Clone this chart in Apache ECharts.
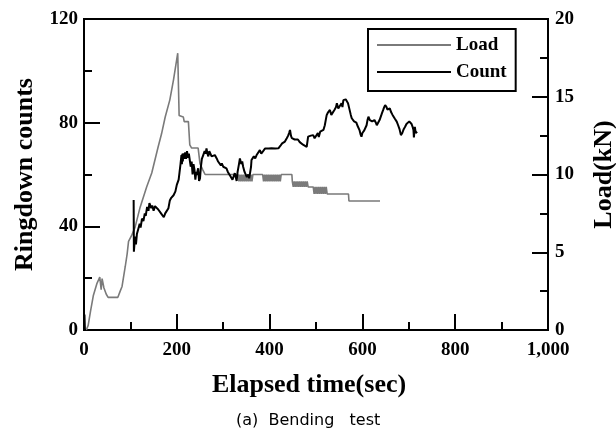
<!DOCTYPE html>
<html>
<head>
<meta charset="utf-8">
<script src="https://cdn.jsdelivr.net/npm/echarts@6/dist/echarts.min.js"></script>
<style>html,body{margin:0;padding:0;background:#fff;}#c{width:616px;height:438px;}</style>
</head>
<body>
<div id="c"></div>
<script>
// Load (kN) vs elapsed time (s)
var loadT = [5, 9, 14, 20, 28, 32, 34, 37, 39, 41, 43, 45, 48, 52, 73, 78, 82, 89, 93, 96, 103, 110, 121, 135, 146, 160, 167, 175, 185, 193, 202, 205, 214, 216, 225, 228, 232, 246, 250, 256, 261,
  332, 334, 336, 338, 340, 342, 344, 346, 348, 350, 352, 354, 356, 358, 360, 362, 364,
  385, 387, 389, 391, 393, 395, 397, 399, 401, 403, 405, 407, 409, 411, 413, 415, 417, 419, 421, 423, 425,
  448, 449, 451, 453, 455, 457, 459, 461, 463, 465, 467, 469, 471, 473, 475, 477, 479, 481, 483,
  494, 496, 498, 500, 502, 504, 506, 508, 510, 512, 514, 516, 518, 520, 522, 524, 570, 571, 638];
var loadV = [0, 0.3, 1.2, 2.2, 3.0, 3.1, 3.4, 2.6, 3.3, 3.4, 2.7, 2.6, 2.3, 2.1, 2.1, 2.5, 2.8, 4.1, 4.9, 5.7, 6.1, 6.6, 7.9, 9.2, 10.1, 11.8, 12.6, 13.7, 14.8, 16.1, 17.8, 13.8, 13.7, 13.4, 13.4, 11.9, 11.7, 11.7, 10.7, 10.3, 10.0,
  10.0, 9.55, 10.0, 9.55, 10.0, 9.55, 10.0, 9.55, 10.0, 9.55, 10.0, 9.55, 10.0, 9.55, 10.0, 9.55, 10.0,
  10.0, 9.55, 10.0, 9.55, 10.0, 9.55, 10.0, 9.55, 10.0, 9.55, 10.0, 9.55, 10.0, 9.55, 10.0, 9.55, 10.0, 9.55, 10.0, 9.55, 10.0,
  10.0, 9.55, 9.2, 9.55, 9.2, 9.55, 9.2, 9.55, 9.2, 9.55, 9.2, 9.55, 9.2, 9.55, 9.2, 9.55, 9.2, 9.55, 9.2,
  9.2, 8.75, 9.2, 8.75, 9.2, 8.75, 9.2, 8.75, 9.2, 8.75, 9.2, 8.75, 9.2, 8.75, 9.2, 8.75, 8.75, 8.3, 8.3];

// Ringdown counts vs elapsed time (s)
var countStartT = [0, 1, 2];
var countStartV = [0, 6, 0];
var countT = [107, 107.5, 110, 112, 114, 117, 120, 122, 125, 128, 131, 133, 136, 139, 141, 143, 145, 147, 150, 153, 157, 160, 163, 166, 169, 172, 175, 179, 182, 185, 188, 190, 193, 197, 200, 204, 206, 208, 210, 211, 212, 213, 214, 216, 218, 220, 222, 224, 226, 228, 230, 232, 234, 236, 238, 240, 242, 243, 246, 248, 250, 252, 254, 257, 260, 262, 264, 266, 268, 270, 272, 275, 279, 282, 286, 289, 292, 295, 297, 300, 304, 307, 310, 312, 315, 318, 320, 322, 325, 327, 329, 331, 334, 336, 339, 341, 343, 346, 349, 351, 354, 356, 358, 360, 361, 364, 366, 369, 372, 376, 379, 382, 386, 390, 394, 398, 401, 404, 408, 412, 416, 419, 423, 427, 430, 433, 437, 440, 442, 444, 446, 448, 451, 454, 458, 461, 465, 469, 472, 476, 480, 483, 486, 489, 494, 497, 501, 504, 506, 509, 512, 516, 519, 521, 523, 526, 530, 533, 537, 540, 543, 545, 548, 552, 555, 557, 559, 562, 564, 566, 569, 571, 573, 575, 577, 580, 582, 584, 587, 589, 591, 594, 596, 598, 600, 602, 604, 606, 609, 611, 613, 616, 619, 621, 623, 626, 629, 631, 634, 637, 640, 642, 645, 647, 649, 652, 654, 656, 659, 662, 665, 667, 670, 672, 674, 677, 680, 683, 686, 689, 692, 695, 698, 701, 703, 706, 708, 710, 711, 713, 715, 718];
var countV = [50.2, 30.2, 36, 33, 37, 39, 41, 39.5, 43, 42, 45, 44, 47.5, 46, 49, 48.9, 47, 48, 46, 47.8, 47.6, 46.5, 46.8, 45, 44.5, 43.5, 45, 45.6, 47, 50, 51, 51.4, 52, 53.5, 56, 58, 61, 64, 67.5, 64, 68, 65, 68.2, 66, 68.5, 66, 69, 66.5, 68, 68.2, 63, 65, 60, 64, 62, 58, 61, 59.8, 62.4, 57.5, 58.5, 63, 66, 67.5, 69, 68, 70.1, 68, 67, 69, 68.2, 67, 66.9, 67.5, 66.2, 65, 65.5, 63.5, 64.3, 63, 63.5, 62.4, 61, 61.5, 59.5, 59.1, 58, 57.5, 60.5, 59, 57.5, 61, 64, 66.2, 64, 65, 63, 61, 60.5, 59, 60, 58.5, 59.1, 63, 65.6, 65, 67, 66.2, 67.5, 67.5, 69.4, 68, 68.2, 70, 69.4, 70, 69.5, 70.1, 70.5, 70, 70.5, 70.1, 71, 72, 71.5, 72.7, 74, 75, 76, 77.2, 75, 74, 74, 73.5, 73.3, 73.5, 72.5, 72, 71.5, 71, 70.7, 74.6, 74, 75, 75.2, 74, 74.6, 76, 74.5, 76.5, 76, 77.2, 79, 81, 82.9, 84, 84.9, 83, 83.6, 85, 86, 87.5, 85.5, 86.2, 87.5, 86, 88.7, 88, 89, 88.7, 87.5, 86, 85.5, 83, 81.7, 82, 80.5, 81, 80, 79, 78.4, 77, 75.5, 74.6, 76, 75.5, 77, 76.5, 79, 81, 82.3, 81, 81.5, 80.5, 80.4, 81, 80, 79, 79.7, 81, 82.5, 83.6, 85, 86, 86.8, 86, 85, 84.9, 85.5, 84, 83, 82.3, 81.5, 81, 80.4, 79, 77.5, 75.2, 76, 77.5, 78.4, 79.5, 80, 80.5, 81, 79.5, 78.5, 77.2, 74.3, 78.4, 76, 76.5];

var xTicks = [0, 200, 400, 600, 800, 1000];

function pairs(t, v) { var o = []; for (var i = 0; i < t.length; i++) o.push([t[i], v[i]]); return o; }
var countData = pairs(countStartT, countStartV).concat([[104, null]]).concat(pairs(countT, countV));

var serif = "'Liberation Serif', 'Times New Roman', serif";
var tickFont = { fontFamily: serif, fontWeight: 'bold', fontSize: 19, color: '#000' };
var nameFont = { fontFamily: serif, fontWeight: 'bold', fontSize: 26, color: '#000' };

var chart = echarts.init(document.getElementById('c'), null, { renderer: 'canvas' });
chart.setOption({
  animation: false,
  backgroundColor: '#fff',
  grid: { left: 84, right: 68, top: 19, bottom: 108, show: true, borderColor: '#000', borderWidth: 2, backgroundColor: 'transparent', containLabel: false, outerBoundsMode: 'none' },
  legend: {
    orient: 'vertical', left: 368, top: 29,
    padding: [6, 9, 9, 9], itemGap: 7, itemWidth: 74, itemHeight: 2, icon: 'rect',
    borderColor: '#000', borderWidth: 2,
    textStyle: { fontFamily: serif, fontWeight: 'bold', fontSize: 19, color: '#000', lineHeight: 20 },
    data: ['Load', 'Count']
  },
  xAxis: {
    type: 'value', min: 0, max: 1000, interval: 200,
    name: 'Elapsed time(sec)', nameLocation: 'middle', nameGap: 42,
    nameTextStyle: Object.assign({ padding: [0, 14, 0, 0] }, nameFont),
    axisLine: { show: true, lineStyle: { color: '#000', width: 2 } },
    axisTick: { show: true, inside: true, length: 16, lineStyle: { color: '#000', width: 2 } },
    minorTick: { show: true, splitNumber: 2, length: 8, lineStyle: { color: '#000', width: 2 } },
    splitLine: { show: false },
    axisLabel: Object.assign({ margin: 11, formatter: function (v) { return v === 1000 ? '1,000' : String(v); } }, tickFont)
  },
  yAxis: [{
    type: 'value', min: 0, max: 120, interval: 40, position: 'left',
    name: 'Ringdown counts', nameLocation: 'middle', nameGap: 45, nameRotate: 90, nameTextStyle: nameFont,
    axisLine: { show: true, lineStyle: { color: '#000', width: 2 } },
    axisTick: { show: true, inside: true, length: 16, lineStyle: { color: '#000', width: 2 } },
    minorTick: { show: true, splitNumber: 2, length: 8, lineStyle: { color: '#000', width: 2 } },
    splitLine: { show: false },
    axisLabel: Object.assign({ margin: 6 }, tickFont)
  }, {
    type: 'value', min: 0, max: 20, interval: 5, position: 'right',
    name: 'Load(kN)', nameLocation: 'middle', nameGap: 43, nameRotate: 90, nameTextStyle: nameFont,
    axisLine: { show: true, lineStyle: { color: '#000', width: 2 } },
    axisTick: { show: true, inside: true, length: 16, lineStyle: { color: '#000', width: 2 } },
    minorTick: { show: true, splitNumber: 2, length: 8, lineStyle: { color: '#000', width: 2 } },
    splitLine: { show: false },
    axisLabel: Object.assign({ margin: 7 }, tickFont)
  }],
  graphic: [{
    type: 'text', left: 236, top: 413,
    style: { text: '(a)  Bending   test', font: "16px 'DejaVu Sans', sans-serif", fill: '#000' }
  }],
  series: [{
    name: 'Load', type: 'line', yAxisIndex: 1, showSymbol: false, symbol: 'none',
    lineStyle: { color: '#7a7a7a', width: 1.6 }, itemStyle: { color: '#7a7a7a' },
    data: pairs(loadT, loadV), z: 2
  }, {
    name: 'Count', type: 'line', yAxisIndex: 0, showSymbol: false, symbol: 'none', connectNulls: false,
    lineStyle: { color: '#000', width: 2 }, itemStyle: { color: '#000' },
    data: countData, z: 3
  }]
});
</script>
</body>
</html>
